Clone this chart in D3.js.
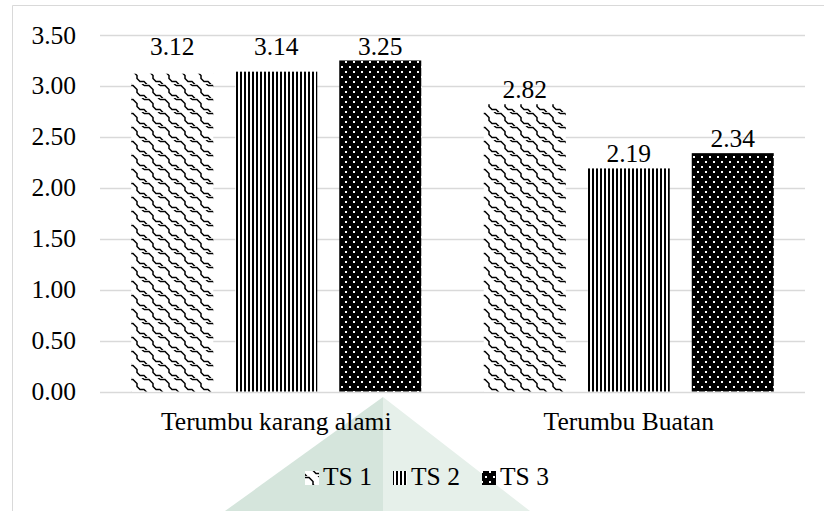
<!DOCTYPE html>
<html>
<head>
<meta charset="utf-8">
<script src="https://cdn.jsdelivr.net/npm/d3@7"></script>
<style>
  html, body { margin: 0; padding: 0; background: #fff; }
  svg { display: block; }
  text { font-family: "Liberation Serif", "Times New Roman", serif; fill: #000; font-size: 25.5px; }
</style>
</head>
<body>
<svg id="chart" width="824" height="511"></svg>
<script>
// Data
const categories = ["Terumbu karang alami", "Terumbu Buatan"];
const seriesNames = ["TS 1", "TS 2", "TS 3"];
const ts1 = [3.12, 2.82];
const ts2 = [3.14, 2.19];
const ts3 = [3.25, 2.34];
const yTicks = [0, 0.5, 1, 1.5, 2, 2.5, 3, 3.5];

const seriesValues = [ts1, ts2, ts3];
const patternIds = ["pat-wave", "pat-vert", "pat-dots"];
// Value labels of the first group sit on one common row
const alignGroupLabels = [true, false];

const W = 824, H = 511;
const margin = { left: 100, right: 19, top: 35, bottom: 119.5 };
const svg = d3.select("#chart");
const defs = svg.append("defs");

// Wave hatch
const pw = defs.append("pattern").attr("id", "pat-wave")
  .attr("patternUnits", "userSpaceOnUse").attr("width", 16).attr("height", 14);
pw.append("rect").attr("width", 16).attr("height", 14).attr("fill", "#fff");
pw.append("path")
  .attr("d", "M0,1.5 H5 L9,5.5 V8.5 L12,11.5 H16 M-4,11.5 H0 L3,14.5 M12,-2.5 L16,1.5")
  .attr("fill", "none").attr("stroke", "#000").attr("stroke-width", 1.5);

// Vertical stripes
const pv = defs.append("pattern").attr("id", "pat-vert")
  .attr("patternUnits", "userSpaceOnUse").attr("width", 4).attr("height", 4);
pv.append("rect").attr("width", 4).attr("height", 4).attr("fill", "#fff");
pv.append("rect").attr("width", 2).attr("height", 4).attr("fill", "#000");

// Black with white dots
const pd = defs.append("pattern").attr("id", "pat-dots")
  .attr("patternUnits", "userSpaceOnUse").attr("width", 8).attr("height", 10);
pd.append("rect").attr("width", 8).attr("height", 10).attr("fill", "#000");
pd.append("rect").attr("x", 1).attr("y", 1).attr("width", 2).attr("height", 2).attr("fill", "#fff");
pd.append("rect").attr("x", 5).attr("y", 6).attr("width", 2).attr("height", 2).attr("fill", "#fff");

// Faint watermark behind the chart
svg.append("polygon")
  .attr("points", "383,397 225,511 383,511").attr("fill", "#d5e5dc");
svg.append("polygon")
  .attr("points", "383,397 530,511 383,511").attr("fill", "#e6f0ea");

// Chart frame
svg.append("path").attr("d", "M12.5,511 V5.5 H824")
  .attr("fill", "none").attr("stroke", "#d9d9d9").attr("stroke-width", 1);

const x0 = d3.scaleBand().domain(categories)
  .range([margin.left, W - margin.right]).paddingInner(0).paddingOuter(0);
const y = d3.scaleLinear().domain([0, 3.5]).range([H - margin.bottom, margin.top]);

const barW = 82, barStep = 104;

// Gridlines
svg.append("g").selectAll("line").data(yTicks).join("line")
  .attr("x1", margin.left).attr("x2", W - margin.right)
  .attr("y1", d => Math.round(y(d)) + 0.5).attr("y2", d => Math.round(y(d)) + 0.5)
  .attr("stroke", "#d9d9d9").attr("stroke-width", 1.3);

// Y tick labels
svg.append("g").selectAll("text").data(yTicks).join("text")
  .attr("x", 76).attr("y", d => y(d) + 8.5)
  .attr("text-anchor", "end")
  .text(d => d3.format(".2f")(d));

// Bars and value labels
categories.forEach((c, ci) => {
  const groupW = barStep * 2 + barW;
  const start = x0(c) + (x0.bandwidth() - groupW) / 2;
  const groupMax = d3.max(seriesValues, vals => vals[ci]);
  seriesValues.forEach((vals, si) => {
    const v = vals[ci];
    const bx = start + si * barStep;
    svg.append("rect")
      .attr("x", bx).attr("y", y(v))
      .attr("width", barW).attr("height", y(0) - y(v))
      .attr("fill", `url(#${patternIds[si]})`);
    const labelRef = alignGroupLabels[ci] ? groupMax : v;
    svg.append("text")
      .attr("x", bx + barW / 2).attr("y", y(labelRef) - (alignGroupLabels[ci] ? 5 : 6))
      .attr("text-anchor", "middle")
      .text(d3.format(".2f")(v));
  });
  svg.append("text")
    .attr("x", x0(c) + x0.bandwidth() / 2).attr("y", 430)
    .attr("text-anchor", "middle").text(c);
});

// Legend
const legendX = [305, 393, 482];
seriesNames.forEach((name, i) => {
  svg.append("rect").attr("x", legendX[i]).attr("y", 471)
    .attr("width", 14).attr("height", 14).attr("fill", `url(#${patternIds[i]})`);
  svg.append("text").attr("x", legendX[i] + 18).attr("y", 485).text(name);
});
</script>
</body>
</html>
